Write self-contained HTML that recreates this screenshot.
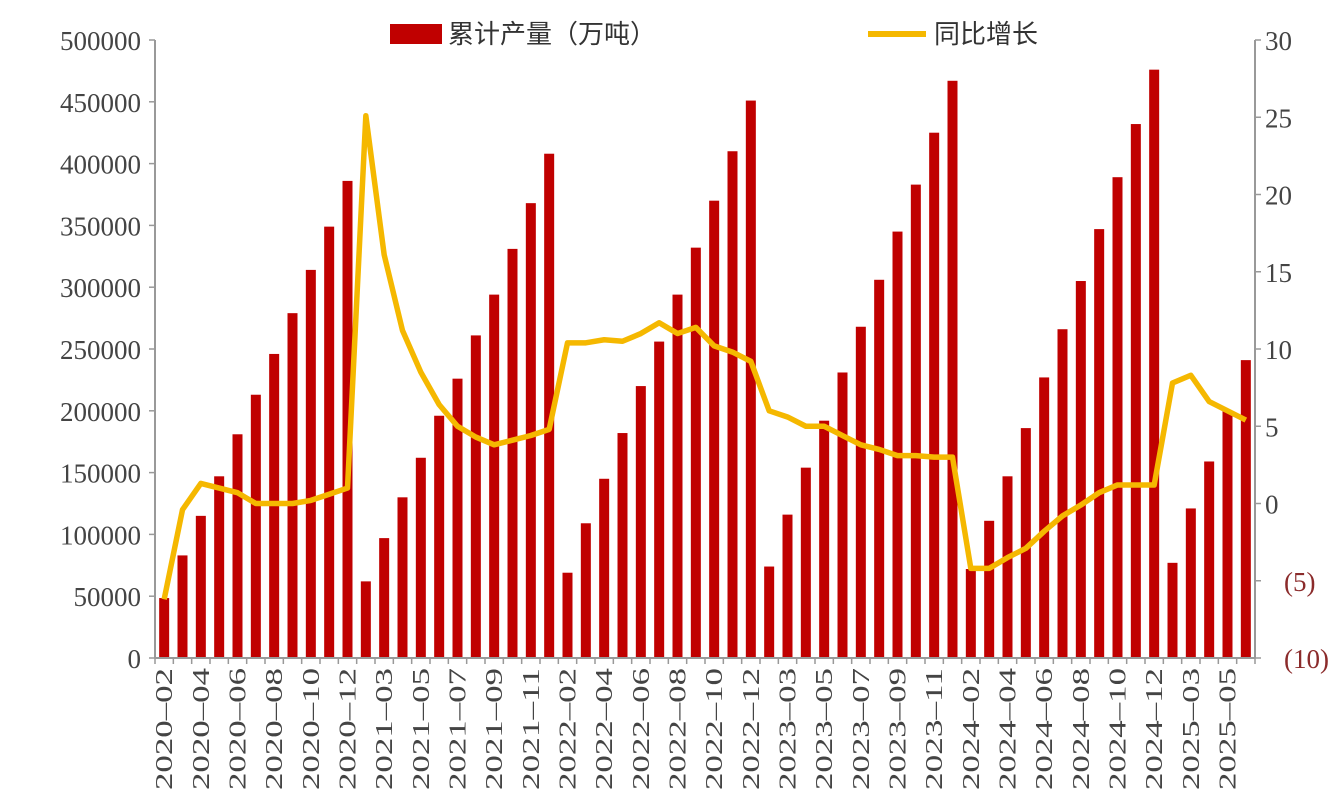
<!DOCTYPE html>
<html><head><meta charset="utf-8"><style>
body{margin:0;background:#fff;}
svg{display:block;font-family:"Liberation Serif","Noto Serif CJK SC",serif;}
</style></head><body>
<svg id="chart" width="1341" height="804" viewBox="0 0 1341 804">
<g id="bars"></g>
<g id="axes"></g>
<g id="line"></g>
<g>
<rect x="390" y="24" width="52" height="20" fill="#c00000"/>
<text x="448" y="43" font-size="26" fill="#333" font-family="'Liberation Sans','Noto Sans CJK SC',sans-serif">累计产量（万吨）</text>
<line x1="868" y1="34" x2="926" y2="34" stroke="#f5b800" stroke-width="6"/>
<text x="934" y="43" font-size="26" fill="#333" font-family="'Liberation Sans','Noto Sans CJK SC',sans-serif">同比增长</text>
</g>
</svg>
<script>
const categories=["2020-02","2020-03","2020-04","2020-05","2020-06","2020-07","2020-08","2020-09","2020-10","2020-11","2020-12",
"2021-02","2021-03","2021-04","2021-05","2021-06","2021-07","2021-08","2021-09","2021-10","2021-11","2021-12",
"2022-02","2022-03","2022-04","2022-05","2022-06","2022-07","2022-08","2022-09","2022-10","2022-11","2022-12",
"2023-02","2023-03","2023-04","2023-05","2023-06","2023-07","2023-08","2023-09","2023-10","2023-11","2023-12",
"2024-02","2024-03","2024-04","2024-05","2024-06","2024-07","2024-08","2024-09","2024-10","2024-11","2024-12",
"2025-02","2025-03","2025-04","2025-05","2025-06"];
const production=[48500,83000,115000,147000,181000,213000,246000,279000,314000,349000,386000,
62000,97000,130000,162000,196000,226000,261000,294000,331000,368000,408000,
69000,109000,145000,182000,220000,256000,294000,332000,370000,410000,451000,
74000,116000,154000,192000,231000,268000,306000,345000,383000,425000,467000,
72000,111000,147000,186000,227000,266000,305000,347000,389000,432000,476000,
77000,121000,159000,200000,241000];
const growth=[-6.2,-0.4,1.3,1.0,0.7,0.0,0.0,0.0,0.2,0.6,1.0,
25.1,16.1,11.2,8.5,6.4,5.0,4.3,3.8,4.1,4.4,4.8,
10.4,10.4,10.6,10.5,11.0,11.7,11.0,11.4,10.2,9.8,9.2,
6.0,5.6,5.0,5.0,4.4,3.8,3.5,3.1,3.1,3.0,3.0,
-4.2,-4.2,-3.5,-2.9,-1.8,-0.8,-0.1,0.7,1.2,1.2,1.2,
7.8,8.3,6.6,6.0,5.4];
const leftTicks=[0,50000,100000,150000,200000,250000,300000,350000,400000,450000,500000];
const rightTicks=[-10,-5,0,5,10,15,20,25,30];
const rightLabels=["(10)","(5)","0","5","10","15","20","25","30"];

const NS="http://www.w3.org/2000/svg";
const X0=155,X1=1255,Y0=658,Y1=40;
const step=(X1-X0)/categories.length;
const xc=i=>X0+step*(i+0.5);
const yL=v=>Y0-(v/500000)*(Y0-Y1);
const yR=v=>Y0-((v+10)/40)*(Y0-Y1);
function el(t,a,p){const e=document.createElementNS(NS,t);for(const k in a)e.setAttribute(k,a[k]);p.appendChild(e);return e;}
const bars=document.getElementById('bars'),axes=document.getElementById('axes'),line=document.getElementById('line');
production.forEach((v,i)=>{
  const r=el('rect',{x:xc(i)-5,y:yL(v),width:10,height:Y0-yL(v),fill:'#c00000'},bars);
  
  
});
const a1=el('line',{x1:X0,y1:Y1,x2:X0,y2:Y0,stroke:'#999','stroke-width':2},axes);


const a2=el('line',{x1:X1,y1:Y1,x2:X1,y2:Y0,stroke:'#999','stroke-width':2},axes);


const a3=el('line',{x1:X0,y1:Y0,x2:X1,y2:Y0,stroke:'#999','stroke-width':2},axes);


leftTicks.forEach(v=>{
  el('line',{x1:X0-6,y1:yL(v),x2:X0,y2:yL(v),stroke:'#999','stroke-width':1.5},axes);
  const t=el('text',{x:141,y:yL(v)+10,'font-size':27,fill:'#444','text-anchor':'end'},axes);
  t.textContent=v;
  
  
});
rightTicks.forEach((v,i)=>{
  el('line',{x1:X1,y1:yR(v),x2:X1+6,y2:yR(v),stroke:'#999','stroke-width':1.5},axes);
  const t=el('text',{x:v<0?1284:1265,y:yR(v)+10,'font-size':27,fill:v<0?'#8b2b2b':'#444'},axes);
  t.textContent=rightLabels[i];
  
  
});
for(let i=0;i<=categories.length;i++){el('line',{x1:X0+step*i,y1:Y0,x2:X0+step*i,y2:Y0+6,stroke:'#999','stroke-width':1.5},axes);}
categories.forEach((c,i)=>{
  if(i%2!==0)return;
  const x=xc(i)+8;
  const t=el('text',{x:x,y:668,'font-size':24,fill:'#444','text-anchor':'end',transform:`rotate(-90 ${x} 668)`,textLength:122,lengthAdjust:'spacingAndGlyphs'},axes);
  t.textContent=c.replace('-','\u2013');
  
  
});
const pl=el('polyline',{points:growth.map((v,i)=>xc(i)+','+yR(v)).join(' '),fill:'none',stroke:'#f5b800','stroke-width':5.5,'stroke-linejoin':'round'},line);


</script>
</body></html>
